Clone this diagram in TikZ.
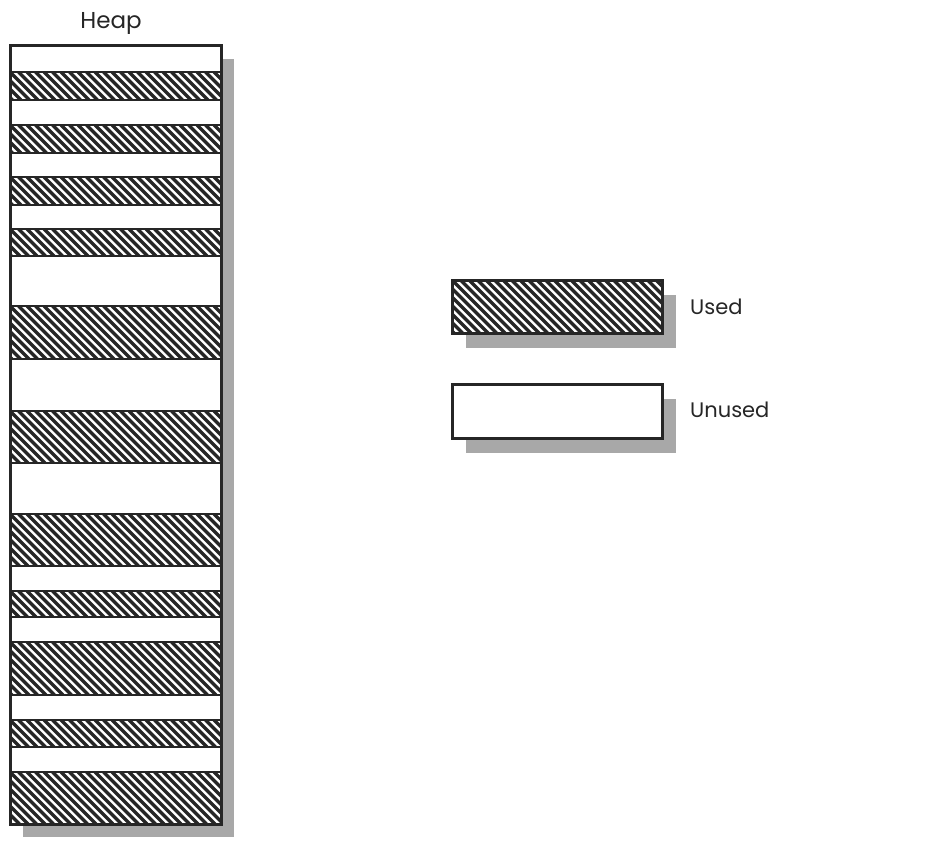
\documentclass[tikz,border=0pt]{standalone}
\usepackage{fontspec}
\setmainfont{Poppins}
\definecolor{shadowgray}{HTML}{A8A8A8}
\tikzset{
  shadowbox/.style={fill=shadowgray, draw=none},
  boxframe/.style={draw=black!85, line width=3pt},
  rowsep/.style={draw=black!85, line width=2.5pt},
  hatchline/.style={draw=black!85, line width=3.2pt},
  lbl/.style={font=\fontsize{21}{24}\selectfont, inner sep=0pt, text=black!85},
  heaplbl/.style={font=\fontsize{23}{26}\selectfont, inner sep=0pt, text=black!85}
}
\newcommand{\hatchrect}[4]{% x1 y1 x2 y2
  \begin{scope}
    \clip (#1,#2) rectangle (#3,#4);
    \foreach \i in {-85,-76.5,...,720} {
      \draw[hatchline] ({#1+\i},#2) -- ({#1+\i+(#4-#2)},#4);
    }
  \end{scope}
}
\begin{document}
\begin{tikzpicture}[x=1pt,y=-1pt]
\useasboundingbox[fill=white] (0,0) rectangle (952,842);
% heap
\node[heaplbl] (heaplabel) at (111,23) {Heap};
\fill[shadowbox] (23,59) rectangle (234,837);
\fill[white] (10,46) rectangle (221,824);
\foreach \a/\b in {72/100,125/153,177/205,229/256,306/359,411/463,514/566,591/617,642/695,720/747,772/824} {
  \hatchrect{10}{\a}{221}{\b}
  \draw[rowsep] (10,\a) -- (221,\a);
  \draw[rowsep] (10,\b) -- (221,\b);
}
\draw[boxframe] (10,46) rectangle (221,824);
% legend
\fill[shadowbox] (466,295) rectangle (676,348);
\fill[white] (452,280) rectangle (662,333);
\hatchrect{452}{280}{662}{333}
\draw[boxframe] (452,280) rectangle (662,333);
\node[lbl, anchor=west] (usedlabel) at (690,307) {Used};
\fill[shadowbox] (466,399) rectangle (676,453);
\draw[boxframe, fill=white] (452,384) rectangle (662,438);
\node[lbl, anchor=west] (unusedlabel) at (690,410) {Unused};
\end{tikzpicture}
\end{document}
